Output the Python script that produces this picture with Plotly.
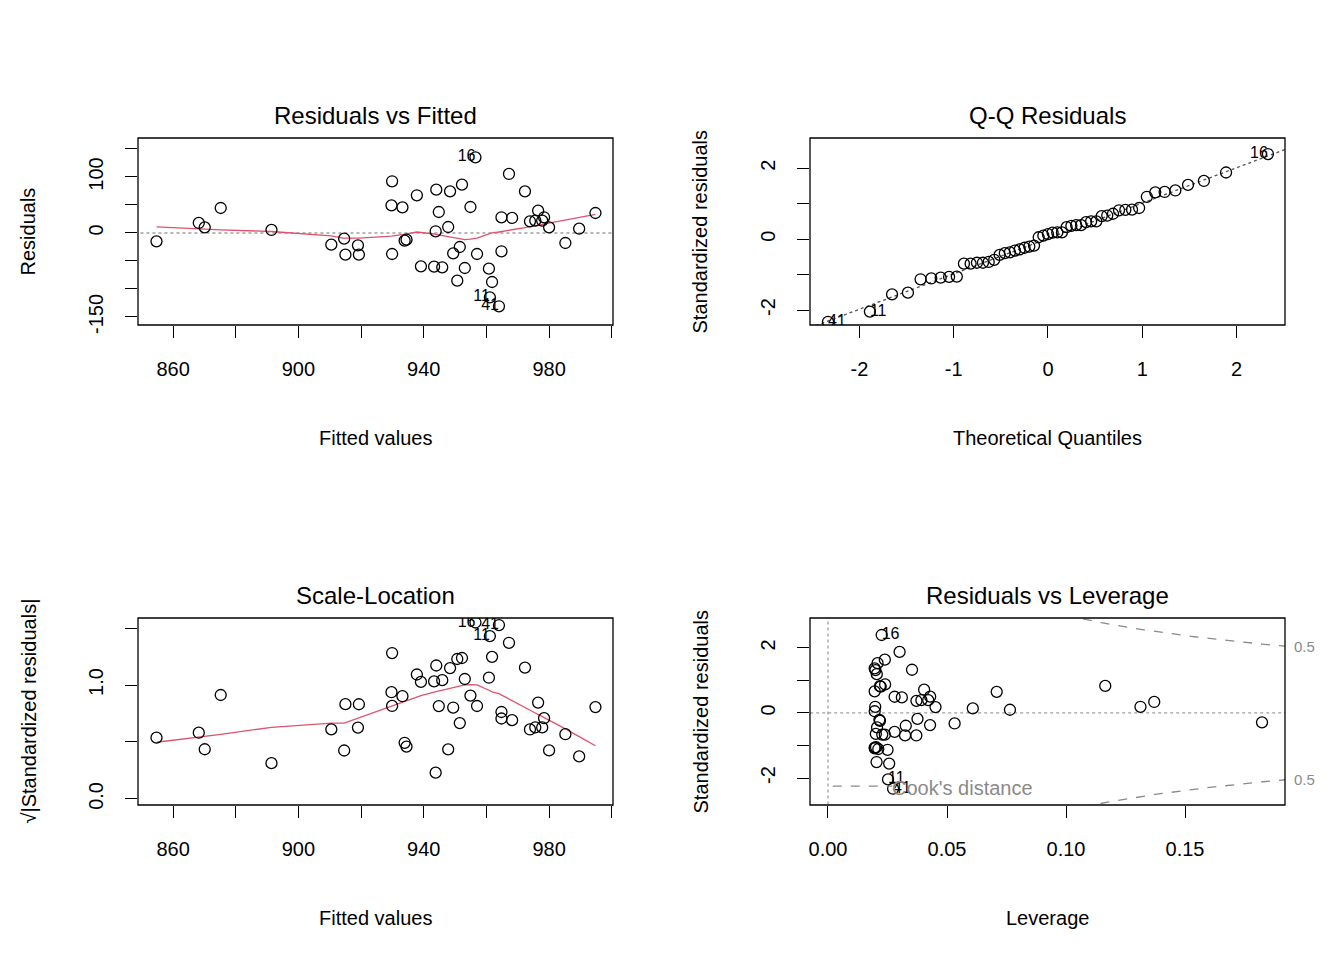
import numpy as np
import plotly.graph_objects as go
from statistics import NormalDist

fitted = [854.7, 868.2, 870.1, 875.2, 891.4, 910.5, 914.6, 915.0, 919.0, 919.3,
          929.9, 929.7, 929.9, 933.2, 933.9, 934.5, 937.8, 939.1, 943.3, 944.0,
          944.8, 943.8, 945.9, 947.8, 948.4, 949.4, 950.7, 951.5, 952.2, 953.1,
          954.9, 956.5, 957.0, 960.8, 961.8, 961.1, 964.8, 964.0, 964.8, 967.2,
          968.2, 972.3, 973.9, 976.5, 975.6, 978.4, 977.8, 980.0, 985.2, 989.6,
          994.8]
resid = [-14.9, 17.9, 10.1, 44.6, 5.4, -20.8, -10.1, -38.7, -22.0, -38.7,
         92.3, 49.4, -37.5, 45.8, -13.7, -11.9, 67.3, -59.5, -60.1, 77.4,
         37.5, 3.0, -61.3, 10.7, 74.4, -36.3, -85.1, -25.0, 86.3, -62.5,
         46.4, 135.1, -37.5, -63.7, -87.5, -114.9, 28.0, -130.9, -32.7, 105.4,
         26.8, 74.4, 20.8, 39.9, 22.0, 28.0, 22.0, 10.1, -17.9, 7.7,
         35.7]
# observation numbers of the three most extreme points
point_ids = {31: "16", 35: "11", 37: "41"}

x = np.array(fitted)
e = np.array(resid)
n = len(x)
p = 2
h = 1.0 / n + (x - x.mean()) ** 2 / ((x - x.mean()) ** 2).sum()
s = np.sqrt((e ** 2).sum() / (n - p))
r = e / (s * np.sqrt(1 - h))
sl = np.sqrt(np.abs(r))


def lowess(xs, ys, f=2 / 3, it=3):
    order = np.argsort(xs)
    xs, ys = xs[order], ys[order]
    m = len(xs)
    k = int(np.ceil(f * m))
    yest = np.zeros(m)
    w_rob = np.ones(m)
    for _ in range(it + 1):
        for i in range(m):
            d = np.abs(xs - xs[i])
            hh = np.sort(d)[k - 1]
            w = np.clip(d / max(hh, 1e-12), 0, 1)
            w = (1 - w ** 3) ** 3 * w_rob
            W = w.sum()
            mx = (w * xs).sum() / W
            my = (w * ys).sum() / W
            vx = (w * (xs - mx) ** 2).sum()
            b = (w * (xs - mx) * (ys - my)).sum() / vx if vx > 0 else 0
            yest[i] = my + b * (xs[i] - mx)
        res = ys - yest
        sc = np.median(np.abs(res))
        u = np.clip(res / (6 * sc), -1, 1)
        w_rob = (1 - u ** 2) ** 2
    return xs, yest


FONT = "Liberation Sans, Arial, sans-serif"
W, H = 1344, 960
panels = {
    1: dict(x0=130, x1=605, y0=130, y1=317),
    2: dict(x0=802, x1=1277, y0=130, y1=317),
    3: dict(x0=130, x1=605, y0=610, y1=797),
    4: dict(x0=802, x1=1277, y0=610, y1=797),
}

fig = go.Figure()
marker = dict(symbol="circle-open", size=11, color="black", line=dict(width=1.3, color="black"))
red = "#DF536B"
grey = "#9E9E9E"


def pts(px, py, k, ids=None, pos="middle left"):
    fig.add_trace(go.Scatter(x=px, y=py, mode="markers", marker=marker,
                             xaxis="x%d" % k, yaxis="y%d" % k, showlegend=False))
    if ids:
        fig.add_trace(go.Scatter(x=[px[i] for i in ids], y=[py[i] for i in ids],
                                 mode="text", text=[ids[i] for i in ids], textposition=pos,
                                 textfont=dict(size=16, family=FONT, color="black"),
                                 xaxis="x%d" % k, yaxis="y%d" % k, showlegend=False))


def line(px, py, k, color, dash="solid", width=1.3):
    fig.add_trace(go.Scatter(x=px, y=py, mode="lines", line=dict(color=color, dash=dash, width=width),
                             xaxis="x%d" % k, yaxis="y%d" % k, showlegend=False, hoverinfo="skip"))


# 1 residuals vs fitted
line([840, 1010], [0, 0], 1, grey, "dot")
lx, ly = lowess(x, e)
line(lx, ly, 1, red)
pts(list(x), list(e), 1, point_ids)

# 2 Q-Q
nd = NormalDist()
a = 3 / 8 if n <= 10 else 0.5
q = np.array([nd.inv_cdf((i + 1 - a) / (n + 1 - 2 * a)) for i in range(n)])
order = np.argsort(r)
qx = np.empty(n)
qx[order] = q
y_q = np.quantile(r, [0.25, 0.75])
x_q = np.array([nd.inv_cdf(0.25), nd.inv_cdf(0.75)])
slope = (y_q[1] - y_q[0]) / (x_q[1] - x_q[0])
icpt = y_q[0] - slope * x_q[0]
line([-3, 3], [icpt - 3 * slope, icpt + 3 * slope], 2, "#555555", "dot")
fig.add_trace(go.Scatter(x=list(qx), y=list(r), mode="markers", marker=marker,
                         xaxis="x2", yaxis="y2", showlegend=False))
pos2 = {"16": "middle left", "11": "middle right", "41": "middle right"}
for i, t in point_ids.items():
    fig.add_trace(go.Scatter(x=[qx[i]], y=[r[i]], mode="text", text=[t], textposition=pos2[t],
                             textfont=dict(size=16, family=FONT, color="black"),
                             xaxis="x2", yaxis="y2", showlegend=False))

# 3 scale-location
lx3, ly3 = lowess(x, sl)
line(lx3, ly3, 3, red)
pts(list(x), list(sl), 3, point_ids)

# 4 residuals vs leverage
line([-0.01, 0.2], [0, 0], 4, grey, "dot")
line([0, 0], [-3, 3], 4, grey, "dot")
hh = np.linspace(0.001, 0.2, 300)
for D in (0.5, 1.0):
    c = np.sqrt(D * p * (1 - hh) / hh)
    line(hh, c, 4, "#8A8A8A", "dash")
    line(hh, -c, 4, "#8A8A8A", "dash")
pts(list(h), list(r), 4, point_ids, "middle right")

ranges = {
    1: ([848.8, 1000.4], [-164.3, 169.6]),
    2: ([-2.525, 2.515], [-2.42, 2.85]),
    3: ([848.8, 1000.4], [-0.053, 1.588]),
    4: ([-0.00756, 0.192], [-2.83, 2.92]),
}
xt = {1: ([860, 880, 900, 920, 940, 960, 980, 1000], ["860", "", "900", "", "940", "", "980", ""]),
      2: ([-2, -1, 0, 1, 2], ["-2", "-1", "0", "1", "2"]),
      3: ([860, 880, 900, 920, 940, 960, 980, 1000], ["860", "", "900", "", "940", "", "980", ""]),
      4: ([0, 0.05, 0.1, 0.15], ["0.00", "0.05", "0.10", "0.15"])}
yt = {1: ([-150, -100, -50, 0, 50, 100, 150], ["-150", "", "", "0", "", "100", ""]),
      2: ([-2, -1, 0, 1, 2], ["-2", "", "0", "", "2"]),
      3: ([0, 0.5, 1.0, 1.5], ["0.0", "", "1.0", ""]),
      4: ([-2, -1, 0, 1, 2], ["-2", "", "0", "", "2"])}
titles = {1: "Residuals vs Fitted", 2: "Q-Q Residuals", 3: "Scale-Location", 4: "Residuals vs Leverage"}
xtitles = {1: "Fitted values", 2: "Theoretical Quantiles", 3: "Fitted values", 4: "Leverage"}
ytitles = {1: "Residuals", 2: "Standardized residuals", 3: "√|Standardized residuals|",
           4: "Standardized residuals"}

layout = dict(width=W, height=H, margin=dict(l=0, r=0, t=0, b=0, autoexpand=False),
              paper_bgcolor="white", plot_bgcolor="white",
              font=dict(family=FONT, size=20, color="black"))
annotations = []
shapes = []
tick = dict(ticks="outside", ticklen=12, tickwidth=1, tickcolor="black", showgrid=False,
            zeroline=False, showline=False, tickfont=dict(size=20, family=FONT),
            ticklabelstandoff=14, automargin=False)
for k, pb in panels.items():
    xd = [pb["x0"] / W, pb["x1"] / W]
    yd = [1 - pb["y1"] / H, 1 - pb["y0"] / H]
    layout["xaxis%d" % k] = dict(domain=xd, range=ranges[k][0], anchor="y%d" % k,
                                 tickvals=xt[k][0], ticktext=xt[k][1], **tick)
    layout["yaxis%d" % k] = dict(domain=yd, range=ranges[k][1], anchor="x%d" % k,
                                 tickvals=yt[k][0], ticktext=yt[k][1], tickangle=-90, **tick)
    shapes.append(dict(type="rect", xref="paper", yref="paper", x0=xd[0], x1=xd[1], y0=yd[0], y1=yd[1],
                       line=dict(color="black", width=1.3)))
    cx = (xd[0] + xd[1]) / 2
    common = dict(xref="paper", yref="paper", showarrow=False, xanchor="center", yanchor="middle")
    annotations.append(dict(text=titles[k], x=cx, y=1 - (pb["y0"] - 23) / H,
                            font=dict(size=24, family=FONT), **common))
    annotations.append(dict(text=xtitles[k], x=cx, y=1 - (pb["y1"] + 113) / H,
                            font=dict(size=20, family=FONT), **common))
    annotations.append(dict(text=ytitles[k], x=(pb["x0"] - 110) / W, y=(yd[0] + yd[1]) / 2,
                            textangle=-90, font=dict(size=20, family=FONT), **common))

# Cook's distance legend and contour labels
annotations.append(dict(text="Cook's distance", x=0.026, y=-2.3, xref="x4", yref="y4",
                        xanchor="left", yanchor="middle",
                        showarrow=False, font=dict(size=20, family=FONT, color="#8A8A8A")))
shapes.append(dict(type="line", xref="x4", yref="y4", x0=0.002, x1=0.027, y0=-2.25, y1=-2.25,
                   line=dict(color="#8A8A8A", dash="dash", width=1.3)))
for yy in (2.05, -2.05):
    annotations.append(dict(text="0.5", x=1284 / W, y=yy, xref="paper", yref="y4",
                            xanchor="left", yanchor="middle",
                            showarrow=False, font=dict(size=15, family=FONT, color="#8A8A8A")))
layout["annotations"] = annotations
layout["shapes"] = shapes
fig.update_layout(**layout)
fig.write_html("out.html")
